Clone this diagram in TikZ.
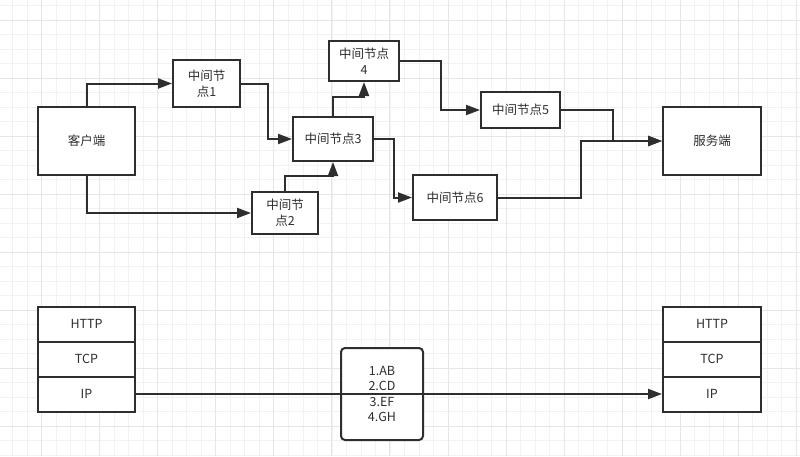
\documentclass[tikz,border=0pt]{standalone}
\usepackage{fontspec}
\setmainfont{Noto Sans CJK SC}
\usetikzlibrary{arrows.meta}
\definecolor{ink}{HTML}{2E2E2E}
\definecolor{gridminor}{HTML}{F2F2F2}
\definecolor{gridmajor}{HTML}{E6E6E6}
\tikzset{
  box/.style={draw=ink, line width=2pt, fill=white, text=ink, inner sep=0pt,
    align=center, font=\fontsize{12.5}{16}\selectfont},
  conn/.style={draw=ink, line width=2pt, -{Triangle[length=14pt 0, width=10pt 0]}},
  minorline/.style={draw=gridminor, line width=0.8pt},
  majorline/.style={draw=gridmajor, line width=0.9pt}
}
\begin{document}
\begin{tikzpicture}[x=1pt, y=-1pt]
\useasboundingbox (0,0) rectangle (800,456);
\fill[white] (0,0) rectangle (800,456);
% grid
\foreach \i in {0,...,54} {
  \draw[minorline] ({12.7+14.51*\i},0) -- ({12.7+14.51*\i},456);
}
\foreach \i in {0,...,31} {
  \draw[minorline] (0,{5.5+14.51*\i}) -- (800,{5.5+14.51*\i});
}
\foreach \i in {0,...,13} {
  \draw[majorline] ({41.7+58.04*\i},0) -- ({41.7+58.04*\i},456);
}
\foreach \i in {0,...,7} {
  \draw[majorline] (0,{20+58.04*\i}) -- (800,{20+58.04*\i});
}

% top diagram nodes
\node[box, minimum width=97pt, minimum height=68pt] (client) at (86.5,141) {客户端};
\node[box, minimum width=67pt, minimum height=47pt] (n1) at (206.5,83.5) {中间节\\点1};
\node[box, minimum width=66pt, minimum height=42pt] (n2) at (285,213) {中间节\\点2};
\node[box, minimum width=80pt, minimum height=44pt] (n3) at (333,139) {中间节点3};
\node[box, minimum width=70pt, minimum height=40pt] (n4) at (364,61) {中间节点\\4};
\node[box, minimum width=79pt, minimum height=36pt] (n5) at (520.5,110) {中间节点5};
\node[box, minimum width=84pt, minimum height=45pt] (n6) at (455,197.5) {中间节点6};
\node[box, minimum width=98pt, minimum height=68pt] (server) at (712,141) {服务端};

% top connectors
\draw[conn] (client.north) |- (n1.west);
\draw[conn] (client.south) |- (n2.west);
\draw[conn] (n1.east) -- ++(26.5,0) |- (n3.west);
\draw[conn] (n2.north) -- ++(0,-15) -| (n3.south);
\draw[conn] (n3.north) -- ++(0,-19) -| (n4.south);
\draw[conn] (n3.east) -- ++(20,0) |- (n6.west);
\draw[conn] (n4.east) -- ++(41,0) |- (n5.west);
\draw[conn] (n5.east) -- ++(52,0) |- (server.west);
\draw[conn] (n6.east) -- ++(83,0) |- (server.west);

% bottom stacks
\node[box, minimum width=97pt, minimum height=35pt] (lhttp) at (86.5,324.2) {HTTP};
\node[box, minimum width=97pt, minimum height=35pt] (ltcp) at (86.5,359.2) {TCP};
\node[box, minimum width=97pt, minimum height=35pt] (lip) at (86.5,394) {IP};
\node[box, minimum width=98pt, minimum height=35pt] (rhttp) at (712,324.2) {HTTP};
\node[box, minimum width=98pt, minimum height=35pt] (rtcp) at (712,359.2) {TCP};
\node[box, minimum width=98pt, minimum height=35pt] (rip) at (712,394) {IP};

\node[box, rounded corners=4pt, minimum width=82pt, minimum height=92pt,
  font=\fontsize{12.5}{15.5}\selectfont] (note) at (382,394) {1.AB\\2.CD\\3.EF\\4.GH};

\draw[conn] (lip.east) -- (rip.west);
\end{tikzpicture}
\end{document}
